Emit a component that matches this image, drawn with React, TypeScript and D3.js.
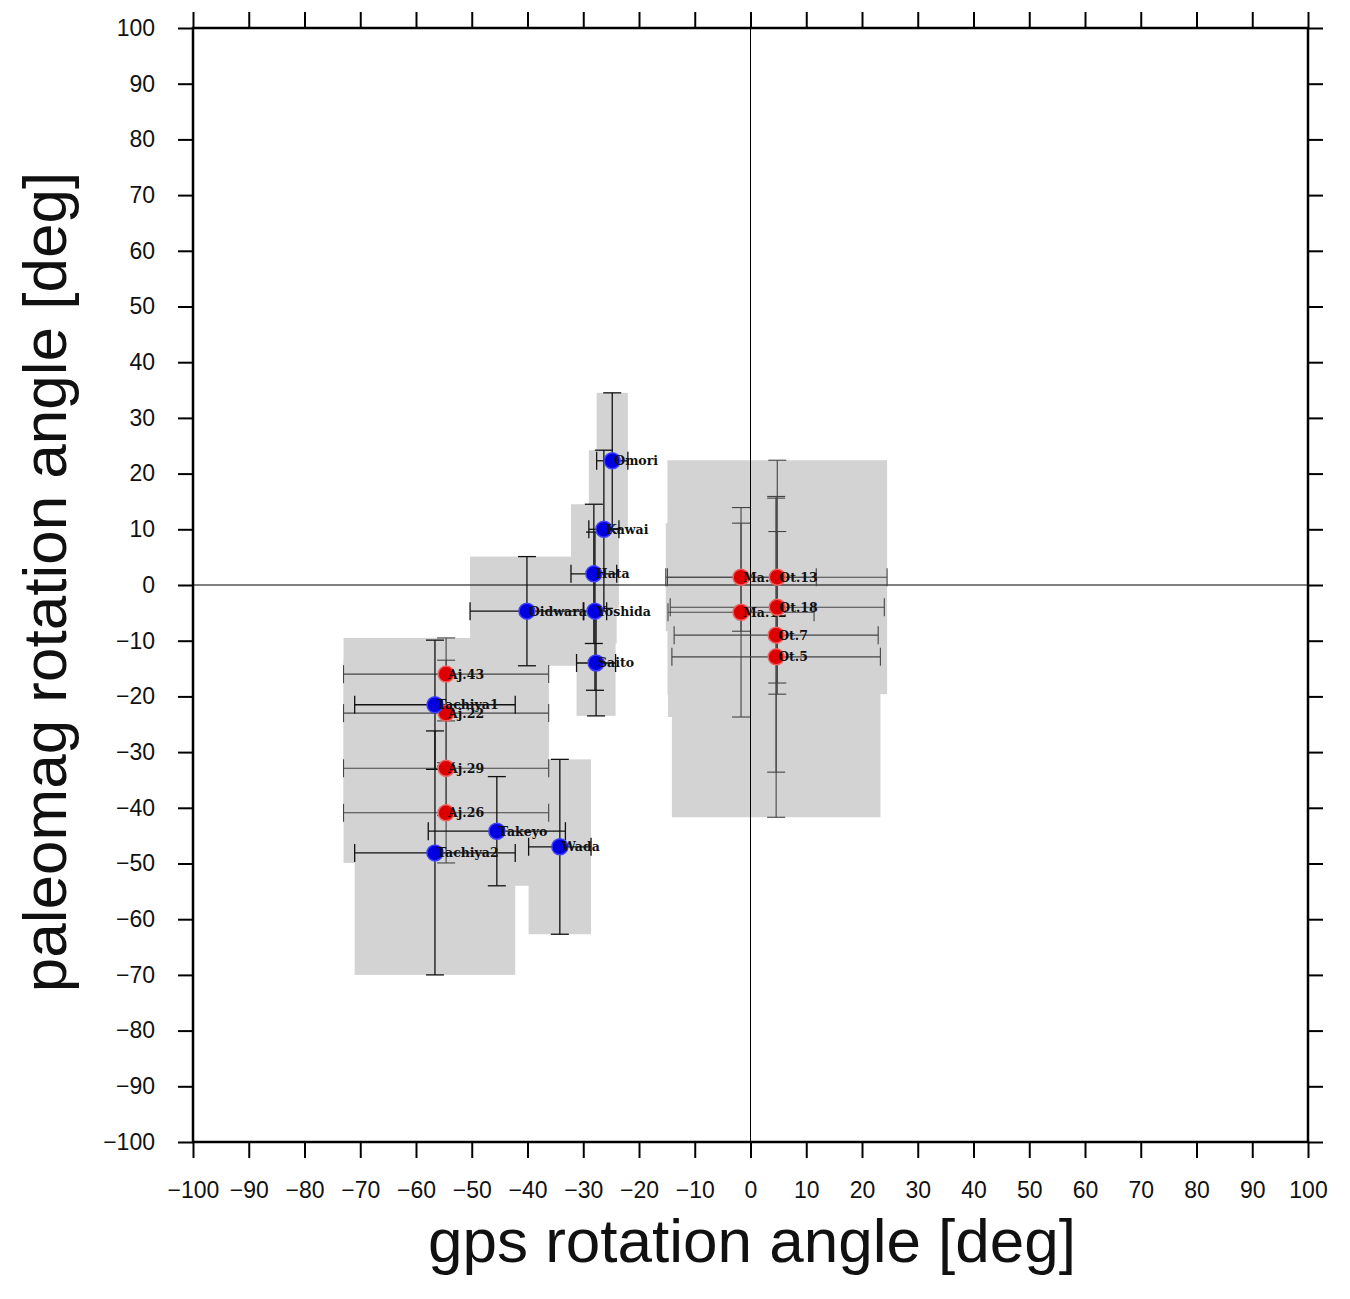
import React, { useEffect, useRef } from "react";
import * as d3 from "d3";

// sites: paleomag blocks (red) and gps stations (blue)
const siteNames = [
  "Aj.43", "Aj.22", "Aj.29", "Aj.26", "Ma.11", "Ma.12", "Ot.13", "Ot.18", "Ot.7", "Ot.5",
  "Omori", "Kawai", "Hata", "Yoshida", "Saito", "Oidwara", "Tachiya1", "Tachiya2", "Takeyo", "Wada",
];
const siteType = [
  "block", "block", "block", "block", "block", "block", "block", "block", "block", "block",
  "station", "station", "station", "station", "station", "station", "station", "station", "station", "station",
];
const gpsAngle = [-54.6, -54.6, -54.6, -54.6, -1.7, -1.7, 4.8, 4.8, 4.6, 4.6,
  -24.8, -26.3, -28.1, -27.9, -27.7, -40.1, -56.6, -56.6, -45.5, -34.2];
const gpsError = [18.4, 18.4, 18.4, 18.4, 13.5, 13.1, 19.7, 19.2, 18.3, 18.7,
  2.8, 2.7, 4.1, 2.1, 3.5, 10.2, 14.4, 14.4, 12.3, 5.6];
const paleoAngle = [-16.0, -23.0, -32.9, -40.9, 1.4, -4.9, 1.4, -4.0, -9.0, -12.9,
  22.3, 10.0, 2.0, -4.7, -14.0, -4.7, -21.5, -48.1, -44.2, -47.0];
const paleoError = [6.5, 9.5, 8.5, 9.0, 9.7, 18.8, 21.0, 13.6, 24.6, 28.8,
  12.2, 14.2, 12.5, 14.2, 9.5, 9.8, 11.6, 21.9, 9.8, 15.7];

const tickValues = d3.range(-100, 101, 10);

const markerFill = { block: "#dc0000", station: "#0000e0" };
const markerStroke = { block: "#f06060", station: "#4040ff" };
const barStroke = { block: "#444", station: "#111" };

const App = () => {
  const ref = useRef(null);

  useEffect(() => {
    const svg = d3.select(ref.current);
    svg.selectAll("*").remove();

    const x = d3.scaleLinear().domain([-100, 100]).range([193, 1308]);
    const y = d3.scaleLinear().domain([-100, 100]).range([1142, 28]);

    const sites = siteNames.map((name, i) => ({
      name,
      type: siteType[i],
      gx: gpsAngle[i],
      ge: gpsError[i],
      py: paleoAngle[i],
      pe: paleoError[i],
    }));

    // grey uncertainty boxes
    svg
      .append("g")
      .selectAll("rect")
      .data(sites)
      .join("rect")
      .attr("x", (d) => x(d.gx - d.ge))
      .attr("width", (d) => x(d.gx + d.ge) - x(d.gx - d.ge))
      .attr("y", (d) => y(d.py + d.pe))
      .attr("height", (d) => y(d.py - d.pe) - y(d.py + d.pe))
      .attr("fill", "#d3d3d3");

    // zero lines
    svg
      .append("line")
      .attr("x1", x(0)).attr("x2", x(0))
      .attr("y1", y(100)).attr("y2", y(-100))
      .attr("stroke", "#000").attr("stroke-width", 1);
    svg
      .append("line")
      .attr("x1", x(-100)).attr("x2", x(100))
      .attr("y1", y(0)).attr("y2", y(0))
      .attr("stroke", "#000").attr("stroke-width", 1);

    // error bars
    const cap = 9;
    const bars = svg
      .append("g")
      .selectAll("g")
      .data(sites)
      .join("g")
      .attr("stroke", (d) => barStroke[d.type])
      .attr("stroke-width", (d) => (d.type === "station" ? 1.3 : 1.1));
    bars.append("line")
      .attr("x1", (d) => x(d.gx - d.ge)).attr("x2", (d) => x(d.gx + d.ge))
      .attr("y1", (d) => y(d.py)).attr("y2", (d) => y(d.py));
    bars.append("line")
      .attr("x1", (d) => x(d.gx)).attr("x2", (d) => x(d.gx))
      .attr("y1", (d) => y(d.py + d.pe)).attr("y2", (d) => y(d.py - d.pe));
    [-1, 1].forEach((s) => {
      bars.append("line")
        .attr("x1", (d) => x(d.gx + s * d.ge)).attr("x2", (d) => x(d.gx + s * d.ge))
        .attr("y1", (d) => y(d.py) - cap).attr("y2", (d) => y(d.py) + cap);
      bars.append("line")
        .attr("x1", (d) => x(d.gx) - cap).attr("x2", (d) => x(d.gx) + cap)
        .attr("y1", (d) => y(d.py + s * d.pe)).attr("y2", (d) => y(d.py + s * d.pe));
    });

    // markers + labels, blocks first then stations
    const pts = svg
      .append("g")
      .selectAll("g")
      .data(sites)
      .join("g")
      .attr("transform", (d) => `translate(${x(d.gx)},${y(d.py)})`);
    pts.append("circle")
      .attr("r", 8)
      .attr("fill", (d) => markerFill[d.type])
      .attr("stroke", (d) => markerStroke[d.type])
      .attr("stroke-width", 1.5);
    pts.append("text")
      .attr("x", 2)
      .attr("dy", "0.36em")
      .attr("font-family", "DejaVu Serif")
      .attr("font-weight", "bold")
      .attr("font-size", 12.5)
      .attr("fill", "#111")
      .text((d) => d.name);

    // axes
    const fmt = (v) => (v < 0 ? `\u2212${Math.abs(v)}` : `${v}`);
    const styleAxis = (g) => {
      g.select(".domain").remove();
      g.selectAll(".tick line").attr("stroke", "#000").attr("stroke-width", 2);
      g.selectAll(".tick text")
        .attr("fill", "#111")
        .attr("font-family", "Liberation Sans, Arial, Helvetica, sans-serif")
        .attr("font-size", 23);
    };
    svg.append("g")
      .attr("transform", `translate(${x(-100)},0)`)
      .call(d3.axisLeft(y).tickValues(tickValues).tickFormat(fmt).tickSize(15).tickPadding(23))
      .call(styleAxis);
    svg.append("g")
      .attr("transform", `translate(0,${y(-100)})`)
      .call(d3.axisBottom(x).tickValues(tickValues).tickFormat(fmt).tickSize(16).tickPadding(24))
      .call(styleAxis);
    svg.append("g")
      .attr("transform", `translate(0,${y(100)})`)
      .call(d3.axisTop(x).tickValues(tickValues).tickFormat(() => "").tickSize(16))
      .call(styleAxis);
    svg.append("g")
      .attr("transform", `translate(${x(100)},0)`)
      .call(d3.axisRight(y).tickValues(tickValues).tickFormat(() => "").tickSize(15))
      .call(styleAxis);

    // frame
    svg.append("rect")
      .attr("x", x(-100)).attr("y", y(100))
      .attr("width", x(100) - x(-100)).attr("height", y(-100) - y(100))
      .attr("fill", "none").attr("stroke", "#000").attr("stroke-width", 2.5);

    // titles
    svg.append("text")
      .attr("x", 752).attr("y", 1262)
      .attr("text-anchor", "middle")
      .attr("font-family", "Liberation Sans, Arial, Helvetica, sans-serif")
      .attr("font-size", 62)
      .attr("fill", "#111")
      .text("gps rotation angle [deg]");
    svg.append("text")
      .attr("transform", "translate(66,582) rotate(-90)")
      .attr("text-anchor", "middle")
      .attr("font-family", "Liberation Sans, Arial, Helvetica, sans-serif")
      .attr("font-size", 62)
      .attr("fill", "#111")
      .text("paleomag rotation angle [deg]");
  }, []);

  return (
    <svg
      ref={ref}
      width={1350}
      height={1299}
      style={{ position: "absolute", left: 0, top: 0, background: "#fff" }}
    />
  );
};

export default App;
